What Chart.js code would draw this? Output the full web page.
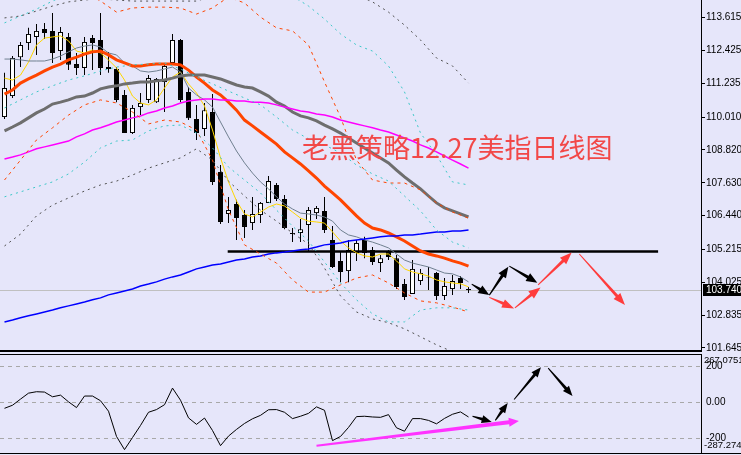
<!DOCTYPE html>
<html>
<head>
<meta charset="utf-8">
<script src="https://cdn.jsdelivr.net/npm/chart.js@4.4.0/dist/chart.umd.min.js"></script>
<style>
  html, body { margin: 0; padding: 0; background: #e6e6fa; }
  #wrap { position: relative; width: 741px; height: 455px; background: #e6e6fa; overflow: hidden; }
  #mainChart { position: absolute; left: 0; top: 0; }
  #cciChart { position: absolute; left: 0; top: 354px; }
</style>
</head>
<body>
<div id="wrap">
  <canvas id="mainChart" width="741" height="352"></canvas>
  <canvas id="cciChart" width="741" height="100"></canvas>
</div>
<script>
// daily candles, oldest first
const opens = [110.01,110.77,112.18,112.69,112.91,113.20,113.13,112.40,112.91,111.93,
  111.79,112.87,112.80,111.82,111.75,110.81,109.43,110.37,110.63,110.55,
  111.28,111.97,112.80,110.92,109.94,109.58,110.19,108.02,106.50,106.86,
  106.46,106.17,106.46,106.90,107.55,107.04,105.81,105.81,106.10,106.53,
  106.61,105.56,104.80,104.43,105.09,105.56,105.19,104.72,105.12,104.90,
  103.96,103.60,104.07,104.22,104.36,103.53,103.78,104.18,103.78];
const highs = [111.61,112.22,112.73,113.24,113.38,113.42,113.78,113.27,113.05,112.33,
  112.91,112.98,113.78,112.37,111.82,110.99,110.45,110.88,111.53,111.42,
  111.97,113.02,112.84,111.10,110.45,110.52,110.84,108.27,107.11,107.01,
  106.64,107.11,106.93,107.87,107.62,107.19,105.99,106.32,106.75,106.79,
  107.11,106.06,105.12,105.56,105.56,105.67,105.30,105.01,105.19,105.01,
  104.14,104.83,104.51,104.58,104.40,104.18,104.29,104.25,103.85];
const lows = [109.94,110.70,111.82,112.44,112.26,112.84,111.97,112.08,111.71,111.53,
  111.53,111.71,111.53,111.61,110.55,109.43,109.40,110.08,110.52,110.52,
  110.19,111.97,110.55,109.90,109.18,109.32,107.55,106.14,106.17,105.56,
  105.63,105.92,106.17,106.90,106.97,105.95,105.48,105.48,105.12,106.32,
  105.81,104.54,104.03,104.03,104.80,104.90,104.65,104.40,104.83,103.78,
  103.38,103.60,103.93,103.75,103.38,103.38,103.56,103.78,103.64];
const closes = [111.06,112.15,112.62,113.02,113.13,113.05,112.33,113.09,111.90,111.79,
  112.73,112.69,111.79,111.75,110.63,109.43,110.34,110.52,111.42,111.39,
  111.86,112.80,110.63,109.97,109.43,110.26,107.66,106.21,106.64,106.35,
  106.03,106.50,106.90,107.69,107.04,105.99,105.77,105.95,106.64,106.72,
  105.92,104.58,104.40,105.19,105.45,105.09,104.76,104.90,104.94,103.85,
  103.49,104.51,104.36,104.20,103.53,103.89,104.07,104.00,103.74];
const lastPrice = 103.740;

// moving averages, one value per candle
const maYellow = [111.42,111.35,111.53,112.00,112.62,112.87,112.91,112.95,112.77,112.40,
  112.33,112.44,112.33,112.08,111.79,111.35,110.77,110.52,110.45,110.63,
  111.06,111.46,111.64,111.21,110.88,110.41,109.54,108.53,107.66,106.97,
  106.50,106.39,106.57,106.75,106.86,106.79,106.57,106.35,106.24,106.21,
  106.17,105.85,105.52,105.27,105.09,104.98,104.94,105.05,105.05,104.80,
  104.51,104.40,104.33,104.25,104.11,104.04,104.00,103.97,103.86];
const maSlate = [112.11,112.11,112.08,112.04,112.04,112.04,112.11,112.22,112.37,112.51,
  112.58,112.62,112.55,112.33,112.26,111.97,111.86,111.68,111.64,111.68,
  111.75,111.82,111.64,111.06,110.81,110.63,110.37,109.83,109.29,108.78,
  108.35,107.98,107.66,107.41,107.12,106.86,106.68,106.53,106.50,106.46,
  106.39,106.24,105.92,105.74,105.67,105.56,105.48,105.38,105.27,105.05,
  104.83,104.72,104.65,104.58,104.47,104.36,104.33,104.22,104.04];
const maOrange = [110.84,110.99,111.24,111.39,111.53,111.68,111.82,111.93,112.08,112.18,
  112.29,112.37,112.40,112.26,112.08,111.97,111.86,111.86,111.90,111.93,
  111.93,111.93,111.90,111.71,111.46,111.24,110.99,110.81,110.55,110.26,
  109.90,109.69,109.47,109.25,109.03,108.75,108.53,108.31,108.06,107.80,
  107.51,107.26,107.01,106.72,106.43,106.17,105.99,105.92,105.81,105.67,
  105.52,105.34,105.16,105.05,104.98,104.90,104.80,104.72,104.61];
const maGrey = [109.51,109.65,109.80,109.98,110.16,110.30,110.48,110.55,110.63,110.74,
  110.77,110.88,111.03,111.10,111.14,111.21,111.24,111.28,111.28,111.32,
  111.35,111.42,111.50,111.53,111.53,111.53,111.46,111.39,111.28,111.17,
  111.10,111.06,110.92,110.77,110.55,110.41,110.19,110.05,109.98,109.87,
  109.72,109.58,109.43,109.25,109.07,108.89,108.71,108.53,108.35,108.09,
  107.84,107.62,107.41,107.15,106.90,106.72,106.61,106.50,106.39];
const maMagenta = [108.49,108.56,108.64,108.75,108.86,108.93,109.00,109.07,109.14,109.29,
  109.40,109.54,109.62,109.72,109.83,109.90,109.98,110.05,110.16,110.23,
  110.34,110.41,110.52,110.59,110.63,110.66,110.66,110.63,110.63,110.59,
  110.59,110.55,110.55,110.52,110.45,110.37,110.30,110.23,110.19,110.12,
  110.08,110.01,109.90,109.83,109.76,109.69,109.62,109.54,109.47,109.36,
  109.25,109.14,109.00,108.89,108.75,108.60,108.45,108.31,108.16];
const maBlue = [102.59,102.66,102.74,102.81,102.88,102.95,103.02,103.10,103.17,103.24,
  103.31,103.39,103.46,103.57,103.64,103.71,103.78,103.89,103.96,104.04,
  104.14,104.22,104.29,104.40,104.51,104.58,104.65,104.69,104.76,104.83,
  104.87,104.94,104.98,105.05,105.09,105.12,105.16,105.20,105.23,105.30,
  105.38,105.41,105.45,105.52,105.56,105.59,105.63,105.67,105.70,105.70,
  105.74,105.74,105.77,105.81,105.85,105.85,105.88,105.88,105.92];

// envelope bands, read at every second candle (index 0, 2, ... 58)
const bandIdx = Array.from({length: 30}, (_, k) => k * 2);
const bandOrangeUp = [null,null,null,null,null,114.54,114.21,113.81,113.96,113.99,
  113.99,113.96,113.74,113.96,114.36,114.14,113.63,113.24,113.13,112.62,
  111.28,110.01,108.45,107.73,107.62,107.62,107.37,106.90,106.57,106.35];
const bandOrangeLow = [107.73,108.45,109.18,109.62,110.08,110.45,110.63,110.52,110.19,109.76,
  109.90,109.83,109.54,108.45,106.64,105.38,105.05,104.72,104.11,103.67,
  103.67,103.93,104.18,104.29,104.00,103.64,103.35,103.28,103.13,102.95];
const bandCyanOuter = [113.42,113.67,113.92,114.21,114.47,null,null,null,null,null,
  null,null,null,null,null,null,null,null,114.39,114.03,
  113.56,113.02,112.62,112.40,111.86,110.92,109.43,108.64,107.66,107.55];
const bandCyanUp = [110.34,110.63,110.92,111.14,111.35,111.50,111.68,111.82,111.90,111.93,
  111.97,111.75,111.46,111.21,110.95,110.70,110.45,110.01,109.54,109.22,
  109.00,108.71,108.27,107.95,107.69,107.15,106.61,105.92,105.48,105.27];
const bandCyanLow = [107.12,107.30,107.48,107.66,107.95,108.38,108.89,109.14,109.18,109.51,
  109.69,109.72,109.43,108.89,108.20,107.73,107.26,106.64,106.06,105.52,
  104.76,104.00,103.39,102.88,102.59,102.59,103.02,103.10,103.10,103.02];
const bandGreyUp = [113.60,113.67,113.85,114.03,114.18,114.25,114.29,114.25,114.21,114.21,
  114.21,114.21,114.21,114.39,null,null,null,null,null,null,
  null,null,114.43,114.18,113.81,113.34,112.80,112.15,111.86,111.24];
const bandGreyLow = [105.34,105.77,106.43,106.82,107.08,107.33,107.55,107.69,107.91,108.16,
  108.35,108.53,108.86,108.45,107.69,107.15,106.64,106.24,105.81,105.41,
  104.54,103.53,102.95,102.70,102.56,102.34,102.05,101.76,101.51,101.25];

// CCI, one value per candle
const cci = [-34,-17,17,50,58,56,30,39,2,-30,
  34,34,8,-50,-190,-263,-196,-129,-56,-41,
  -14,78,11,-87,-123,-88,-157,-241,-188,-151,
  -118,-92,-73,-42,-41,-56,-91,-78,-62,-26,
  -45,-213,-190,-140,-80,-78,-82,-84,-69,-142,
  -161,-91,-91,-101,-120,-90,-67,-54,-82];

// axis labels
const priceTicks = [113.615,112.425,111.235,110.010,108.820,107.630,106.440,105.215,104.025,102.835,101.645];
const cciTicks = [200, 0, -200];
const cciMax = 267.0751, cciMin = -287.274;

// hand drawn marks: [fromIndex, fromValue, toIndex, toValue]
const supportLine = [[27.9, 105.14], [81.7, 105.14]];
const blackArrows = [[58.4,103.96,60.6,103.56],[60.6,103.56,62.98,104.59],[63.1,104.61,66.6,104.01]];
const redArrows = [[60.6,103.48,63.7,103.08],[63.8,103.10,67.0,103.84],[66.7,103.93,70.9,105.10],[71.85,105.05,77.56,103.20]];
const cciBlackArrows = [[58.5,-78,60.9,-110],[61.35,-101,62.9,-4],[63.7,15,67.06,194],[67.96,189,71.0,34]];
const cciPinkArrow = [39.0,-241,64.3,-105];
const titleText = '老黑策略12.27美指日线图';
const titleAt = [37.2, 108.89];

const idx = opens.map((_, i) => i);
const series = arr => arr.map((v, i) => ({x: i, y: v}));
const band = arr => arr.map((v, k) => ({x: bandIdx[k], y: v}));

const X_MIN = -0.5625, X_MAX = 87.0625;
const BG = '#e6e6fa';
const tickFont = {family: '"Liberation Sans", Arial, sans-serif', size: 10};

function arrow(ctx, x1, y1, x2, y2, color, tail, base, headLen, headW) {
  const dx = x2 - x1, dy = y2 - y1, len = Math.hypot(dx, dy);
  const ux = dx / len, uy = dy / len, nx = -uy, ny = ux;
  const bx = x2 - ux * headLen, by = y2 - uy * headLen;
  ctx.beginPath();
  ctx.moveTo(x1 + nx * tail / 2, y1 + ny * tail / 2);
  ctx.lineTo(bx + nx * base / 2, by + ny * base / 2);
  ctx.lineTo(bx + nx * headW / 2, by + ny * headW / 2);
  ctx.lineTo(x2, y2);
  ctx.lineTo(bx - nx * headW / 2, by - ny * headW / 2);
  ctx.lineTo(bx - nx * base / 2, by - ny * base / 2);
  ctx.lineTo(x1 - nx * tail / 2, y1 - ny * tail / 2);
  ctx.closePath();
  ctx.fillStyle = color;
  ctx.fill();
}

const background = {
  id: 'background',
  beforeDraw(chart) {
    const ctx = chart.ctx;
    ctx.save();
    ctx.fillStyle = BG;
    ctx.fillRect(0, 0, chart.width, chart.height);
    ctx.restore();
  }
};

const mainMarks = {
  id: 'mainMarks',
  beforeDatasetsDraw(chart) {
    const {ctx, chartArea: a, scales: {y}} = chart;
    const py = Math.round(y.getPixelForValue(lastPrice)) + 0.5;
    ctx.save();
    ctx.strokeStyle = '#c0c0c0';
    ctx.lineWidth = 1;
    ctx.beginPath();
    ctx.moveTo(a.left, py);
    ctx.lineTo(a.right, py);
    ctx.stroke();
    ctx.restore();
  },
  afterDatasetsDraw(chart) {
    const {ctx, chartArea: a, scales: {x, y}} = chart;
    ctx.save();
    blackArrows.forEach(r => arrow(ctx, x.getPixelForValue(r[0]), y.getPixelForValue(r[1]),
      x.getPixelForValue(r[2]), y.getPixelForValue(r[3]), '#000', 1, 3, 11, 9));
    redArrows.forEach(r => arrow(ctx, x.getPixelForValue(r[0]), y.getPixelForValue(r[1]),
      x.getPixelForValue(r[2]), y.getPixelForValue(r[3]), '#ff3c3c', 1, 3, 12, 9));
    ctx.font = '27px "Noto Sans CJK SC"';
    ctx.fillStyle = '#f24848';
    ctx.textBaseline = 'middle';
    ctx.fillText(titleText, x.getPixelForValue(titleAt[0]), y.getPixelForValue(titleAt[1]));
    ctx.fillStyle = '#000';
    ctx.fillRect(0, a.bottom - 2, a.right + 1, 2);
    ctx.restore();
  },
  afterDraw(chart) {
    const {ctx, scales: {y}} = chart;
    const py = Math.round(y.getPixelForValue(lastPrice));
    ctx.save();
    ctx.fillStyle = '#000';
    ctx.fillRect(y.left + 2, py - 6, chart.width - y.left - 2, 12);
    ctx.fillStyle = '#fff';
    ctx.font = '10px "Liberation Sans", Arial, sans-serif';
    ctx.textBaseline = 'middle';
    ctx.fillText(lastPrice.toFixed(3), y.left + 5, py + 0.5);
    ctx.restore();
  }
};

const lineSet = (data, color, width, dash) => ({
  type: 'line', data, borderColor: color, borderWidth: width, borderDash: dash || [],
  pointRadius: 0, tension: 0, fill: false, spanGaps: false, order: 0
});

new Chart(document.getElementById('mainChart'), {
  type: 'bar',
  data: {
    datasets: [
      lineSet(band(bandGreyUp), '#505050', 1, [2, 4]),
      lineSet(band(bandGreyLow), '#505050', 1, [2, 4]),
      lineSet(band(bandCyanOuter), '#3cc8c8', 1, [2, 4]),
      lineSet(band(bandCyanUp), '#3cc8c8', 1, [2, 4]),
      lineSet(band(bandCyanLow), '#3cc8c8', 1, [2, 4]),
      lineSet(band(bandOrangeUp), '#ff4500', 1, [3, 4]),
      lineSet(band(bandOrangeLow), '#ff4500', 1, [3, 4]),
      lineSet(series(maBlue), '#0000ff', 1.5),
      lineSet(series(maMagenta), '#ff00ff', 1.5),
      lineSet(series(maGrey), '#6e6e6e', 3),
      lineSet(series(maOrange), '#ff4500', 3),
      lineSet(series(maSlate), '#708090', 1),
      lineSet(series(maYellow), '#ffd700', 1),
      lineSet(supportLine.map(p => ({x: p[0], y: p[1]})), '#000', 2.5),
      {
        type: 'bar', order: 2, grouped: false,
        data: idx.map(i => ({x: i, y: [lows[i], highs[i]]})),
        backgroundColor: '#000', borderWidth: 0, barThickness: 1, inflateAmount: 0
      },
      {
        type: 'bar', order: 1, grouped: false,
        data: idx.map(i => ({x: i, y: [opens[i], closes[i]]})),
        backgroundColor: idx.map(i => closes[i] >= opens[i] ? '#ffffff' : '#000000'),
        borderColor: '#000', borderWidth: 1, borderSkipped: false, barThickness: 5, inflateAmount: 0
      }
    ]
  },
  options: {
    responsive: false, animation: false, events: [],
    layout: {padding: 0},
    plugins: {legend: {display: false}, tooltip: {enabled: false}},
    scales: {
      x: {type: 'linear', min: X_MIN, max: X_MAX, display: false, offset: false},
      y: {
        position: 'right', min: 101.50, max: 114.249,
        afterBuildTicks: s => { s.ticks = priceTicks.map(v => ({value: v})); },
        afterFit: s => { s.width = 40; s.paddingTop = 0; s.paddingBottom = 0; },
        grid: {drawOnChartArea: false, drawTicks: true, tickLength: 4, tickColor: '#000'},
        border: {display: true, color: '#000', width: 1},
        ticks: {color: '#000', font: tickFont, padding: 1, callback: v => Number(v).toFixed(3)}
      }
    }
  },
  plugins: [background, mainMarks]
});

const cciMarks = {
  id: 'cciMarks',
  beforeDatasetsDraw(chart) {
    const {ctx, chartArea: a, scales: {y}} = chart;
    ctx.save();
    ctx.strokeStyle = '#a8a8a8';
    ctx.lineWidth = 1;
    ctx.setLineDash([4, 4]);
    cciTicks.forEach(v => {
      const py = Math.round(y.getPixelForValue(v)) + 0.5;
      ctx.beginPath();
      ctx.moveTo(a.left, py);
      ctx.lineTo(a.right, py);
      ctx.stroke();
    });
    ctx.restore();
  },
  afterDatasetsDraw(chart) {
    const {ctx, chartArea: a, scales: {x, y}} = chart;
    ctx.save();
    cciBlackArrows.forEach(r => arrow(ctx, x.getPixelForValue(r[0]), y.getPixelForValue(r[1]),
      x.getPixelForValue(r[2]), y.getPixelForValue(r[3]), '#000', 1, 3, 10, 8));
    const p = cciPinkArrow;
    arrow(ctx, x.getPixelForValue(p[0]), y.getPixelForValue(p[1]),
      x.getPixelForValue(p[2]), y.getPixelForValue(p[3]), '#ff33ff', 2, 4, 10, 9);
    ctx.fillStyle = '#000';
    ctx.fillRect(0, a.top, a.right + 1, 1);
    ctx.fillRect(0, a.bottom - 1, chart.width, 1);
    ctx.restore();
  },
  afterDraw(chart) {
    const {ctx, scales: {y}} = chart;
    ctx.save();
    ctx.fillStyle = '#000';
    ctx.font = '9.5px "Liberation Sans", Arial, sans-serif';
    ctx.textBaseline = 'middle';
    ctx.fillText(String(cciMax), y.left + 3, y.getPixelForValue(cciMax) + 6.5);
    ctx.fillText(String(cciMin), y.left + 3, y.getPixelForValue(cciMin) - 9);
    ctx.restore();
  }
};

new Chart(document.getElementById('cciChart'), {
  type: 'line',
  data: {
    datasets: [lineSet(series(cci), '#000', 1)]
  },
  options: {
    responsive: false, animation: false, events: [],
    layout: {padding: 0},
    plugins: {legend: {display: false}, tooltip: {enabled: false}},
    scales: {
      x: {type: 'linear', min: X_MIN, max: X_MAX, display: false},
      y: {
        position: 'right', min: cciMin, max: cciMax,
        afterBuildTicks: s => { s.ticks = cciTicks.map(v => ({value: v})); },
        afterFit: s => { s.width = 40; s.paddingTop = 0; s.paddingBottom = 0; },
        grid: {drawOnChartArea: false, drawTicks: false},
        border: {display: true, color: '#000', width: 1},
        ticks: {color: '#000', font: tickFont, padding: 5, callback: v => v === 0 ? '0.00' : String(v)}
      }
    }
  },
  plugins: [background, cciMarks]
});
</script>
</body>
</html>
